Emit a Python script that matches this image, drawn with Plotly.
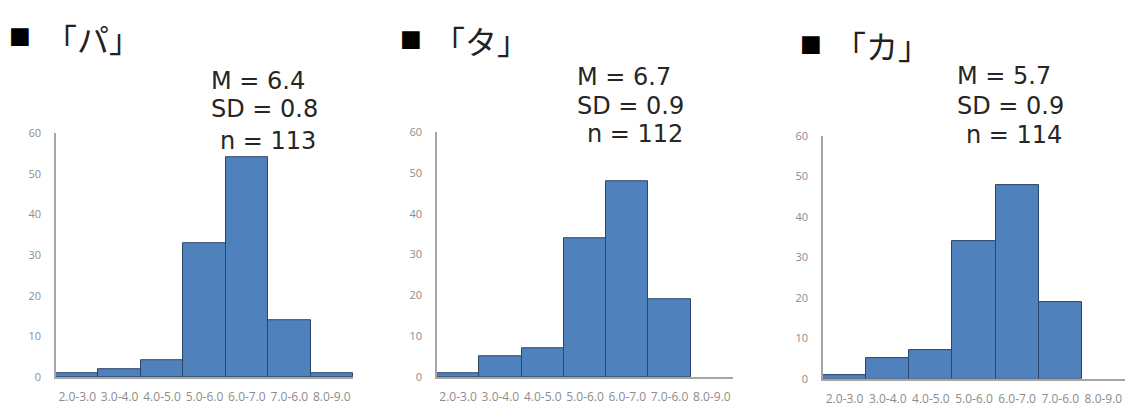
import plotly.graph_objects as go

categories = ["2.0-3.0", "3.0-4.0", "4.0-5.0", "5.0-6.0", "6.0-7.0", "7.0-6.0", "8.0-9.0"]
pa_counts = [1, 2, 4, 33, 54, 14, 1]
ta_counts = [1, 5, 7, 34, 48, 19, 0]
ka_counts = [1, 5, 7, 34, 48, 19, 0]

titles = ["「パ」", "「タ」", "「カ」"]
means = ["6.4", "6.7", "5.7"]
sds = ["0.8", "0.9", "0.9"]
ns = ["113", "112", "114"]

W, H = 1125, 407
BAR = "#4F81BD"
EDGE = "#2B4468"
AXIS = "#A6A6A6"
TICK = "#8C8C8C"

# panel geometry in pixels: (x_left, x_right, y_zero, y_sixty)
panels = [(56, 353, 383, 130), (437, 733, 383, 129), (823, 1125, 385, 133)]
title_pos = [((20, 28), (93, 31)), ((411, 31), (481, 33)), ((811, 36), (882, 38))]
stat_pos = [((209, 76), (209, 105), (218, 138)),
            ((575, 72), (575, 102), (585, 131)),
            ((955, 71), (955, 102), (964, 132))]

fig = go.Figure()
all_counts = [pa_counts, ta_counts, ka_counts]
annotations = []
for i, counts in enumerate(all_counts):
    k = "" if i == 0 else str(i + 1)
    fig.add_trace(go.Bar(
        x=categories, y=counts, xaxis="x" + k, yaxis="y" + k,
        marker=dict(color=BAR,
                    line=dict(color=[EDGE if v > 0 else "rgba(0,0,0,0)" for v in counts], width=1)),
        showlegend=False, hoverinfo="x+y"))
    xl, xr, y0, y60 = panels[i]
    fig.layout["xaxis" + k] = dict(
        domain=[xl / W, min(xr / W, 1.0)], anchor="y" + k, type="category",
        showline=True, linecolor=AXIS, linewidth=1.5, showgrid=False, zeroline=False,
        ticks="", tickfont=dict(family="Open Sans", size=12, color=TICK),
        ticklabelstandoff=8, fixedrange=True)
    fig.layout["yaxis" + k] = dict(
        domain=[(H - y0) / H, (H - y60) / H], anchor="x" + k, range=[0, 60], dtick=10,
        showline=True, linecolor=AXIS, linewidth=1.5, showgrid=False, zeroline=False,
        ticks="", tickfont=dict(family="Open Sans", size=11, color=TICK),
        ticklabelstandoff=11, fixedrange=True)

    (sqx, sqy), (tx, ty) = title_pos[i]
    annotations.append(dict(text="■", x=sqx / W, y=1 - sqy / H, xref="paper", yref="paper",
                            xanchor="center", yanchor="middle", showarrow=False,
                            font=dict(family="DejaVu Sans", size=23, color="black")))
    annotations.append(dict(text=titles[i], x=tx / W, y=1 - ty / H, xref="paper", yref="paper",
                            xanchor="center", yanchor="middle", showarrow=False,
                            font=dict(family="Noto Sans CJK JP", size=32, color="#222222")))
    texts = ["M = " + means[i], "SD = " + sds[i], "n = " + ns[i]]
    for (px, py), t in zip(stat_pos[i], texts):
        annotations.append(dict(text=t, x=px / W, y=1 - py / H, xref="paper", yref="paper",
                                xanchor="left", yanchor="middle", showarrow=False,
                                font=dict(family="DejaVu Sans", size=24, color="#262626")))

fig.update_layout(
    width=W, height=H, margin=dict(l=0, r=0, t=0, b=0),
    paper_bgcolor="white", plot_bgcolor="white",
    bargap=0, annotations=annotations)

fig.write_html("out.html", config={"displayModeBar": False},
               post_script="document.body.style.margin='0px';document.body.style.overflow='hidden';")
